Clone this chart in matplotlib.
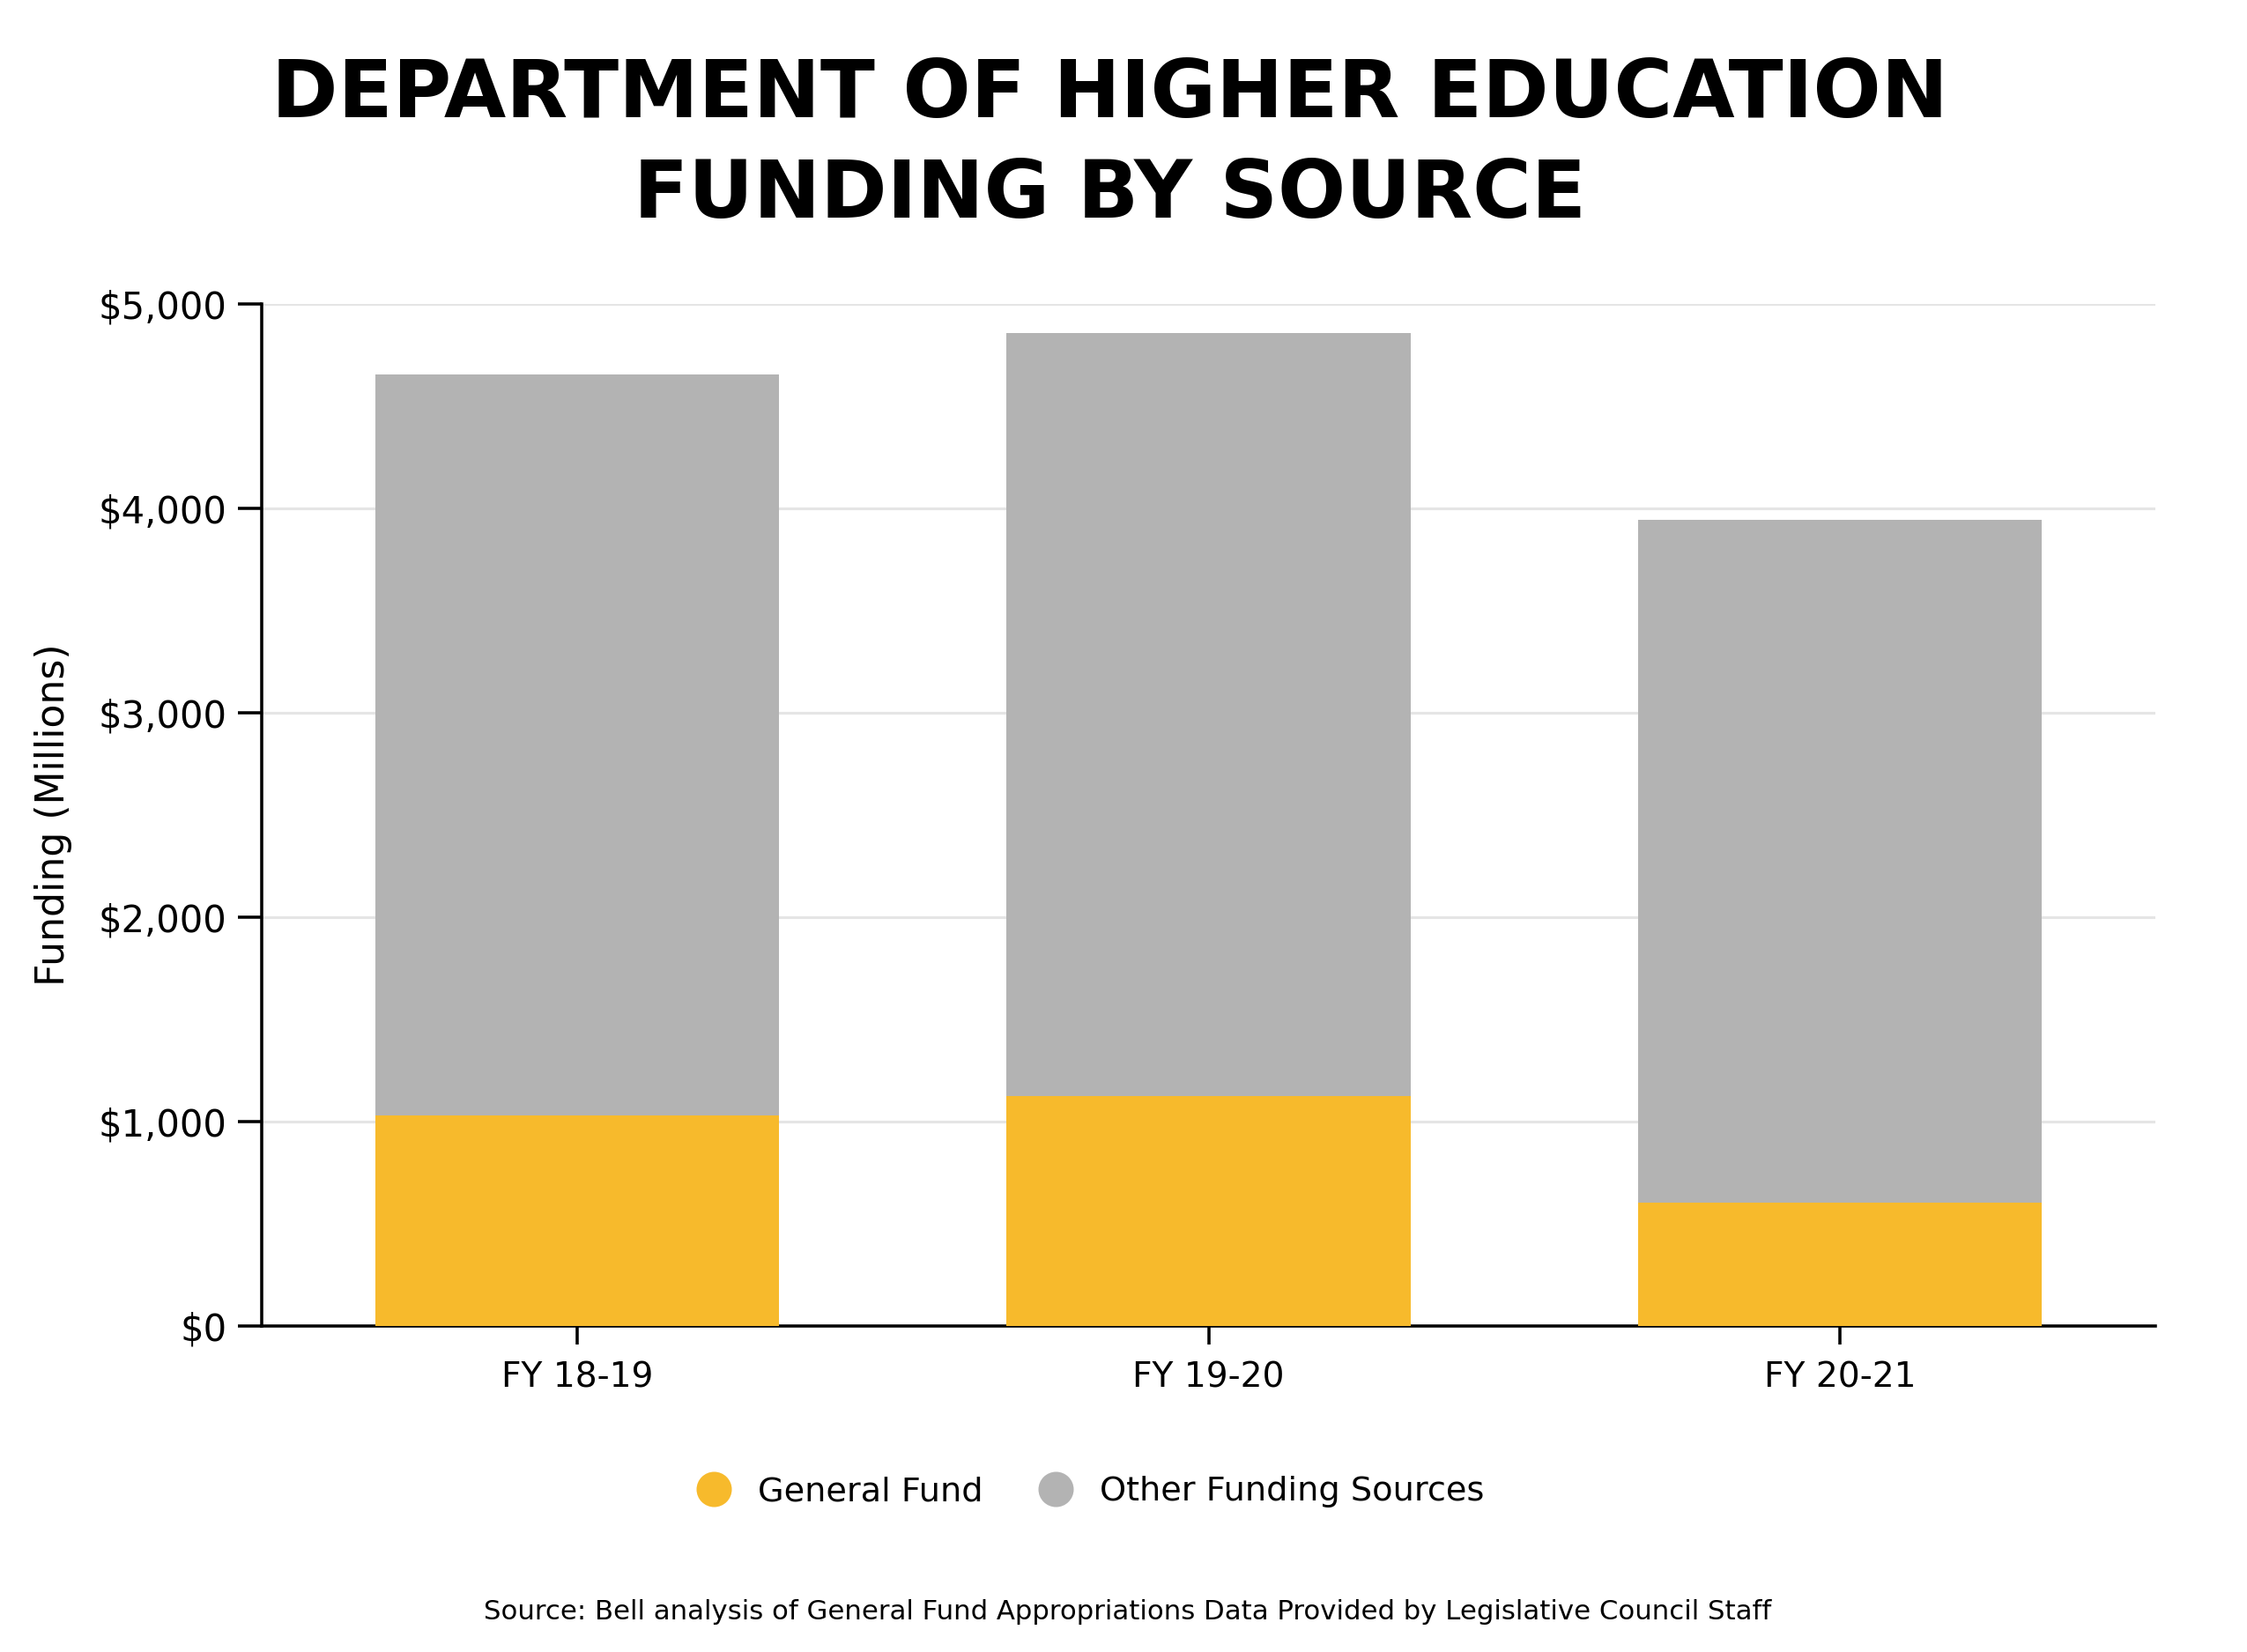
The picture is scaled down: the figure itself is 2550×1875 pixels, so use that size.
import matplotlib
matplotlib.use("Agg")
import matplotlib.pyplot as plt
from matplotlib.lines import Line2D

categories = ["FY 18-19", "FY 19-20", "FY 20-21"]
general_fund = [1031, 1124, 605]
other_sources = [3624, 3734, 3338]
yticks = [0, 1000, 2000, 3000, 4000, 5000]
ytick_labels = ["$0", "$1,000", "$2,000", "$3,000", "$4,000", "$5,000"]

GF_COLOR = "#F7BA2C"
OTHER_COLOR = "#B3B3B3"

plt.rcParams['font.family'] = ['DejaVu Sans']

fig = plt.figure(figsize=(8.5, 6.25), dpi=300)
ax = fig.add_axes([0.1165, 0.1973, 0.9592 - 0.1165, 0.816 - 0.1973])

x = list(range(len(categories)))
ax.bar(x, general_fund, width=0.64, color=GF_COLOR, zorder=3, label="General Fund")
ax.bar(x, other_sources, width=0.64, bottom=general_fund, color=OTHER_COLOR, zorder=3,
       label="Other Funding Sources")

ax.set_xlim(-0.5, 2.5)
ax.set_ylim(0, 5000)
ax.set_yticks(yticks)
ax.set_yticklabels(ytick_labels)
ax.set_xticks(x)
ax.set_xticklabels(categories)

ax.yaxis.grid(True, color="#E5E5E5", linewidth=0.75, zorder=0)
ax.set_axisbelow(True)
for s in ["top", "right"]:
    ax.spines[s].set_visible(False)
ax.spines["left"].set_linewidth(0.85)
ax.spines["bottom"].set_linewidth(0.85)
ax.tick_params(axis="y", length=6.5, width=0.85, labelsize=10, pad=3)
ax.tick_params(axis="x", length=5, width=0.85, labelsize=9.4, pad=4.5)
ax.set_ylabel("Funding (Millions)", fontsize=10.6, labelpad=7)

fig.text(0.494, 0.966, "DEPARTMENT OF HIGHER EDUCATION\nFUNDING BY SOURCE",
         ha="center", va="top", fontsize=21.8, fontweight="bold", linespacing=1.38)

handles = [
    Line2D([0], [0], marker="o", linestyle="", markersize=8.6, markerfacecolor=GF_COLOR,
           markeredgecolor=GF_COLOR),
    Line2D([0], [0], marker="o", linestyle="", markersize=8.6, markerfacecolor=OTHER_COLOR,
           markeredgecolor=OTHER_COLOR),
]
fig.legend(handles, ["General Fund", "Other Funding Sources"], loc="center",
           bbox_to_anchor=(0.4815, 0.097), ncol=2, frameon=False, fontsize=9.2,
           handletextpad=0.3, columnspacing=1.15)

fig.text(0.502, 0.024, "Source: Bell analysis of General Fund Appropriations Data Provided by Legislative Council Staff",
         ha="center", va="center", fontsize=7.4)

fig.savefig("out.png", dpi=300)
